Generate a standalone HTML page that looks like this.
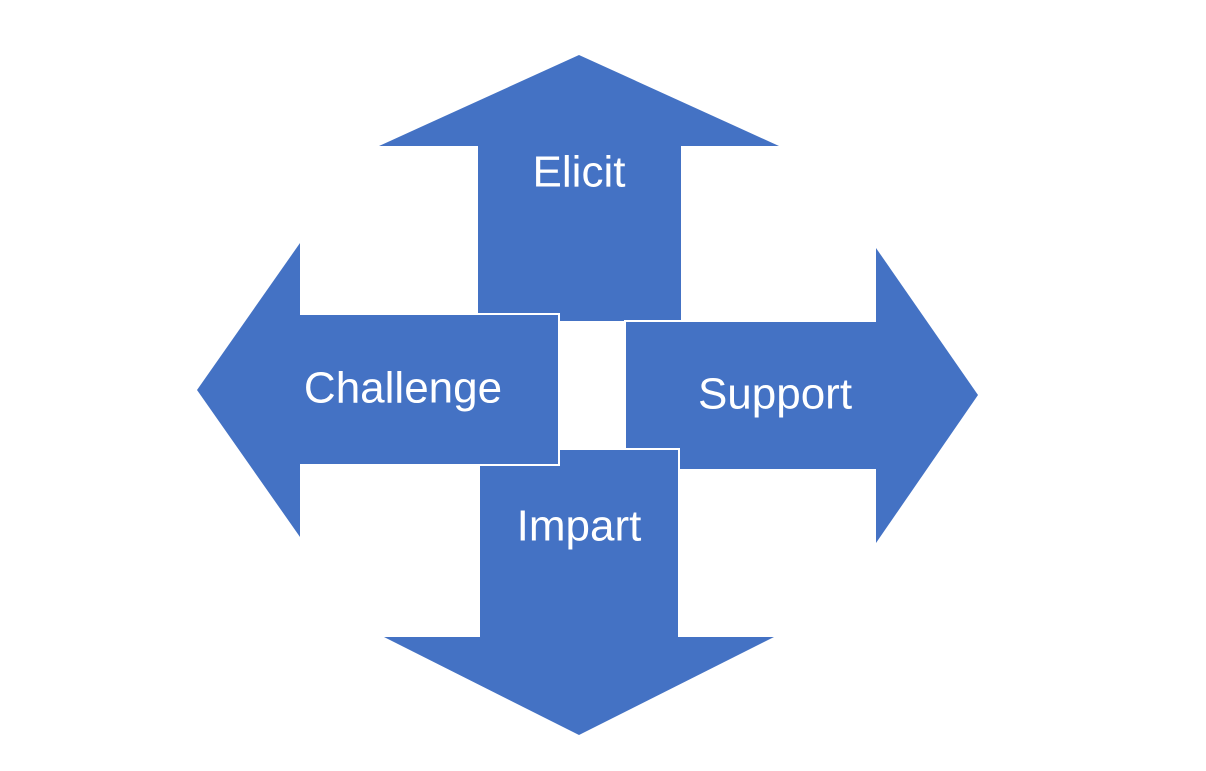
<!DOCTYPE html>
<html><head><style>
html,body{margin:0;padding:0;background:#fff;}
svg{display:block;}
text{font-family:"Liberation Sans",sans-serif;font-size:44px;fill:#fff;text-anchor:middle;dominant-baseline:central;}
</style></head><body>
<svg width="1206" height="771" viewBox="0 0 1206 771">
<g fill="#4472C4">
<polygon stroke="#fff" stroke-width="2" points="579,55 779,146 682,146 682,322 477,322 477,146 379,146"/>
<polygon points="579,55 779,146 379,146"/>
<polygon stroke="#fff" stroke-width="2" points="978,395 876,248 876,321 625,321 625,470 876,470 876,543"/>
<polygon points="978,395 876,248 876,543"/>
<polygon stroke="#fff" stroke-width="2" points="579,735 774,637 679,637 679,449 479,449 479,637 384,637"/>
<polygon points="579,735 774,637 384,637"/>
<polygon stroke="#fff" stroke-width="2" points="197,390 300,243 300,314 559,314 559,465 300,465 300,537"/>
<polygon points="197,390 300,243 300,537"/>
</g>
<text x="579" y="172">Elicit</text>
<text x="403" y="388">Challenge</text>
<text x="775" y="394">Support</text>
<text x="579" y="526">Impart</text>
</svg>
</body></html>
